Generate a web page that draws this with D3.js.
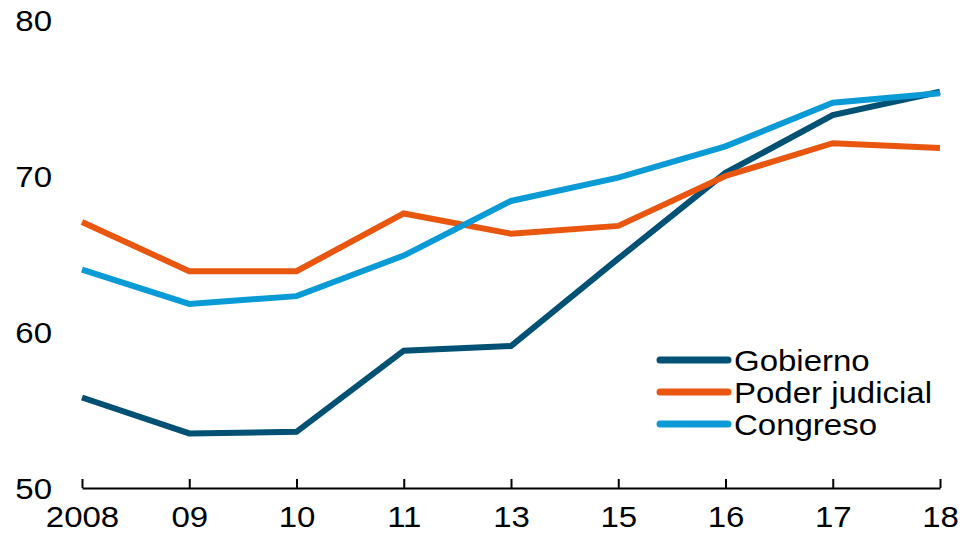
<!DOCTYPE html>
<html>
<head>
<meta charset="utf-8">
<script src="https://cdn.jsdelivr.net/npm/d3@7"></script>
<style>
  body { margin: 0; background: #fff; }
  svg { display: block; font-family: "Liberation Sans", Arial, sans-serif; }
</style>
</head>
<body>
<svg id="chart" width="965" height="540"></svg>
<script>
const years = ['2008', '09', '10', '11', '13', '15', '16', '17', '18']
const gobierno = [55.8, 53.5, 53.6, 58.8, 59.1, 64.7, 70.2, 73.9, 75.4]
const poderJudicial = [67.05, 63.9, 63.9, 67.6, 66.3, 66.8, 70.0, 72.1, 71.8]
const congreso = [64.0, 61.8, 62.3, 64.9, 68.4, 69.9, 71.9, 74.7, 75.3]
const yTicks = [50, 60, 70, 80]

const seriesNames = ['Gobierno', 'Poder judicial', 'Congreso']
const seriesColors = ['#005174', '#e8560f', '#0a9bd6']
const series = [gobierno, poderJudicial, congreso]

// text in the original is a little wider than Liberation Sans
const stretch = 1.1

const svg = d3.select('#chart')

const x = d3.scalePoint()
  .domain(years)
  .range([82, 940])

const y = d3.scaleLinear()
  .domain([50, 80])
  .range([488, 20])

// y labels, no axis line
svg.append('g')
  .selectAll('text')
  .data(yTicks)
  .join('text')
  .attr('transform', d => `translate(52,${y(d)}) scale(${stretch},1)`)
  .attr('dy', '0.36em')
  .attr('text-anchor', 'end')
  .style('font-size', '30px')
  .style('fill', '#000')
  .text(d => d)

// x axis with ticks pointing up
const xAxis = svg.append('g')
  .attr('transform', `translate(0,${y(50)})`)
  .call(d3.axisBottom(x).tickSizeInner(-9).tickSizeOuter(0).tickPadding(20))

xAxis.select('.domain')
  .attr('stroke', '#000')
  .attr('stroke-width', 2)
xAxis.selectAll('.tick line')
  .attr('stroke', '#000')
  .attr('stroke-width', 2)
xAxis.selectAll('.tick text')
  .attr('transform', `scale(${stretch},1)`)
  .attr('y', 18)
  .style('font-size', '30px')
  .style('font-family', '"Liberation Sans", Arial, sans-serif')
  .style('fill', '#000')

const line = d3.line()
  .x((d, i) => x(years[i]))
  .y(d => y(d))

svg.append('g')
  .selectAll('path')
  .data(series)
  .join('path')
  .attr('d', d => line(d))
  .attr('fill', 'none')
  .attr('stroke', (d, i) => seriesColors[i])
  .attr('stroke-width', 6)
  .attr('stroke-linejoin', 'miter')
  .attr('stroke-linecap', 'butt')

// legend
const legend = svg.append('g')
  .selectAll('g')
  .data(seriesNames)
  .join('g')
  .attr('transform', (d, i) => `translate(660,${360 + i * 32})`)

legend.append('line')
  .attr('x1', 0)
  .attr('x2', 68)
  .attr('stroke', (d, i) => seriesColors[i])
  .attr('stroke-width', 7)
  .attr('stroke-linecap', 'round')

legend.append('text')
  .attr('transform', `translate(74,0) scale(${stretch},1)`)
  .attr('dy', '0.36em')
  .style('font-size', '30px')
  .style('fill', '#000')
  .text(d => d)
</script>
</body>
</html>
